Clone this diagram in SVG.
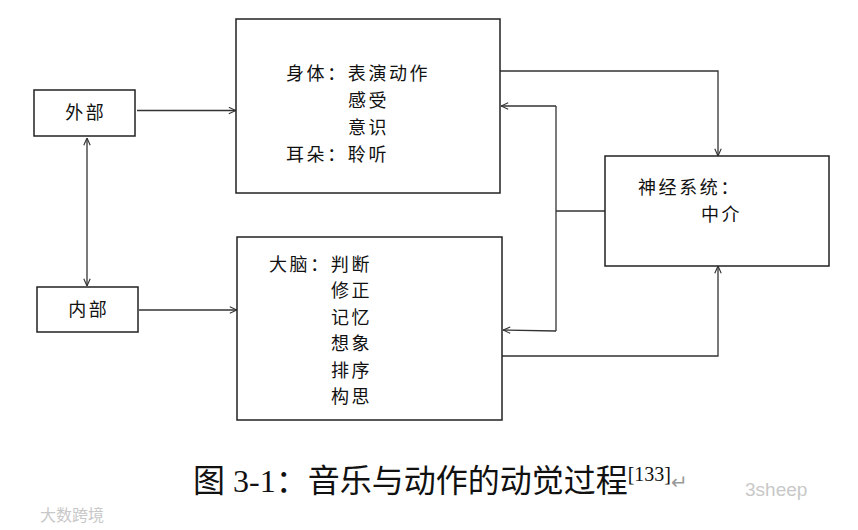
<svg xmlns="http://www.w3.org/2000/svg" width="858" height="530" viewBox="0 0 858 530">
<style>
.box{fill:#fff;stroke:#222;stroke-width:1.5}
.t{font-family:"Noto Sans CJK SC","Noto Sans",sans-serif;font-size:18px;fill:#111;letter-spacing:2.6px}
.c{fill:none;stroke:#333;stroke-width:1.3}
.cap{font-family:"Liberation Serif","Noto Sans CJK SC",serif;font-size:32px;fill:#111}
.wm{font-family:"Liberation Sans","Noto Sans CJK SC",sans-serif;fill:#c8c8c8}
</style>
<defs>
<marker id="a" viewBox="0 0 10 10" refX="10" refY="5" markerWidth="8" markerHeight="8" markerUnits="userSpaceOnUse" orient="auto-start-reverse">
<path d="M1,1 L10,5 L1,9" fill="none" stroke="#333" stroke-width="1.4"/>
</marker>
</defs>
<rect width="858" height="530" fill="#fff"/>
<g id="connectors">
<line class="c" x1="137" y1="110.5" x2="236" y2="110.5" marker-end="url(#a)"/>
<line class="c" x1="139" y1="310" x2="237" y2="310" marker-end="url(#a)"/>
<line class="c" x1="87" y1="138" x2="87" y2="286" marker-start="url(#a)" marker-end="url(#a)"/>
<polyline class="c" points="500,71 718,71 718,156" marker-end="url(#a)"/>
<polyline class="c" points="502,356 718,356 718,266" marker-end="url(#a)"/>
<line class="c" x1="605" y1="211" x2="556" y2="211"/>
<polyline class="c" points="556,106 556,331"/>
<line class="c" x1="556" y1="106" x2="501" y2="106" marker-end="url(#a)"/>
<line class="c" x1="556" y1="331" x2="503" y2="330" marker-end="url(#a)"/>
</g>
<g id="waibu">
<rect class="box" x="34" y="90" width="101" height="46"/>
<text class="t" x="85.8" y="119" text-anchor="middle">外部</text>
</g>
<g id="neibu">
<rect class="box" x="37" y="287" width="101" height="45"/>
<text class="t" x="88.8" y="316" text-anchor="middle">内部</text>
</g>
<g id="body">
<rect class="box" x="236" y="19" width="264" height="174"/>
<text class="t" x="286" y="80">身体：表演动作</text>
<text class="t" x="348" y="107">感受</text>
<text class="t" x="348" y="134">意识</text>
<text class="t" x="286" y="161">耳朵：聆听</text>
</g>
<g id="brain">
<rect class="box" x="237" y="237" width="265" height="183"/>
<text class="t" x="269" y="270.5">大脑：判断</text>
<text class="t" x="331" y="297">修正</text>
<text class="t" x="331" y="323.5">记忆</text>
<text class="t" x="331" y="350">想象</text>
<text class="t" x="331" y="376.5">排序</text>
<text class="t" x="331" y="403">构思</text>
</g>
<g id="nerve">
<rect class="box" x="605" y="156" width="224" height="110"/>
<text class="t" x="638" y="194">神经系统：</text>
<text class="t" x="701" y="221">中介</text>
</g>
<g id="caption">
<text class="cap" x="193" y="492">图 3-1：音乐与动作的动觉过程<tspan font-size="20" dy="-11">[133]</tspan></text>
<text x="671" y="489" font-family="DejaVu Sans,sans-serif" font-size="20" fill="#999">↵</text>
</g>
<g id="watermarks">
<text class="wm" x="745" y="496" font-size="19">3sheep</text>
<text class="wm" x="40" y="521" font-size="16">大数跨境</text>
</g>
</svg>
